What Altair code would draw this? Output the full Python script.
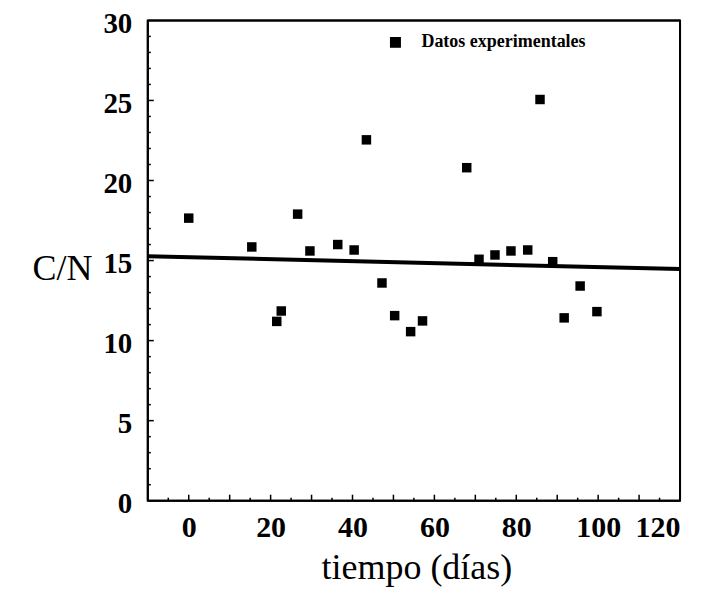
import altair as alt
import pandas as pd

dias = [0, 15.4, 21.5, 22.6, 26.6, 29.6, 36.4, 40.4, 43.4, 47.2, 50.3, 54.2, 57.1,
        67.9, 70.9, 74.8, 78.7, 82.8, 85.8, 88.9, 91.7, 95.6, 99.7]
cn = [17.65, 15.85, 11.2, 11.85, 17.9, 15.6, 16.0, 15.66, 22.54, 13.6, 11.56, 10.56, 11.23,
      20.8, 15.08, 15.35, 15.6, 15.66, 25.06, 14.93, 11.42, 13.41, 11.81]

# Fitted line end points
fit_x = [-10, 120]
fit_y = [15.27, 14.47]

x_labels = [0, 20, 40, 60, 80, 100, 120]
y_labels = [0, 5, 10, 15, 20, 25, 30]
x_major_ticks = [-10, 0, 10, 20, 30, 40, 50, 60, 70, 80, 90, 100, 110]
x_minor_ticks = [-5, 5, 15, 25, 35, 45, 55, 65, 75, 85, 95, 105, 115]
y_major_ticks = [5, 10, 15, 20, 25]
y_minor_ticks = [1, 2, 3, 4, 6, 7, 8, 9, 11, 12, 13, 14, 16, 17, 18, 19, 21, 22, 23, 24,
                 26, 27, 28, 29]
# Frame sides (in data units: domain corners)
frame_x = [-10, 120, -10, -10]
frame_x2 = [-10, 120, 120, 120]
frame_y = [0, 0, 0, 30]
frame_y2 = [30, 30, 0, 30]

SERIF = "Liberation Serif"

pts = pd.DataFrame({"x": dias, "y": cn, "serie": ["Datos experimentales"] * len(dias)})
fit = pd.DataFrame({"x": fit_x, "y": fit_y})
frame = pd.DataFrame({"x": frame_x, "x2": frame_x2, "y": frame_y, "y2": frame_y2})

xscale = alt.Scale(domain=[-10, 120], nice=False, zero=False)
yscale = alt.Scale(domain=[0, 30], nice=False, zero=True)

x_axis = alt.Axis(values=x_labels, grid=False, domain=False, ticks=False,
                  labelFont=SERIF, labelFontSize=30, labelFontWeight="bold",
                  labelColor="black", labelPadding=12,
                  title="tiempo (días)", titleFont=SERIF, titleFontSize=36,
                  titleFontWeight="normal", titleColor="black",
                  titleX=269, titleY=67, titleAlign="center", titleBaseline="middle")
y_axis = alt.Axis(values=y_labels, grid=False, domain=False, ticks=False,
                  labelFont=SERIF, labelFontSize=29, labelFontWeight="bold",
                  labelColor="black", labelPadding=16, labelOffset=3,
                  title="C/N", titleFont=SERIF, titleFontSize=36,
                  titleFontWeight="normal", titleColor="black", titleAngle=0,
                  titleX=-86, titleY=248, titleAlign="center", titleBaseline="middle")

box = alt.Chart(frame).mark_rule(color="black", strokeWidth=2).encode(
    x=alt.X("x:Q", scale=xscale), x2="x2:Q",
    y=alt.Y("y:Q", scale=yscale), y2="y2:Q",
)

points = alt.Chart(pts).mark_square(filled=True, opacity=1, size=90).encode(
    x=alt.X("x:Q", scale=xscale, axis=x_axis),
    y=alt.Y("y:Q", scale=yscale, axis=y_axis),
    color=alt.Color("serie:N", scale=alt.Scale(range=["black"]),
                    legend=alt.Legend(orient="none", legendX=239, legendY=13,
                                      title=None, symbolType="square", symbolSize=90,
                                      symbolFillColor="black", symbolStrokeColor="black",
                                      symbolOpacity=1, labelFont=SERIF, labelFontSize=18,
                                      labelFontWeight="bold", labelColor="black",
                                      labelOffset=17, labelLimit=400, padding=0)),
)

line = alt.Chart(fit).mark_line(color="black", strokeWidth=4).encode(
    x=alt.X("x:Q", scale=xscale),
    y=alt.Y("y:Q", scale=yscale),
)

def yticks(vals, length):
    return alt.Chart(pd.DataFrame({"v": vals})).mark_rule(color="black", strokeWidth=1.5).encode(
        y=alt.Y("v:Q", scale=yscale), x=alt.value(0), x2=alt.value(length))

def xticks(vals, length):
    return alt.Chart(pd.DataFrame({"v": vals})).mark_rule(color="black", strokeWidth=1.5).encode(
        x=alt.X("v:Q", scale=xscale), y=alt.value(481), y2=alt.value(481 - length))

chart = alt.layer(
    box,
    yticks(y_major_ticks, 6), yticks(y_minor_ticks, 3),
    xticks(x_major_ticks, 6), xticks(x_minor_ticks, 3),
    line, points,
).properties(
    width=533, height=481,
    autosize=alt.AutoSizeParams(type="none"),
    padding={"left": 140, "top": 12, "right": 20, "bottom": 90},
    background="white",
).configure_view(stroke="black", strokeWidth=2)

chart.save("out.html", embed_options={"renderer": "svg", "actions": False})
